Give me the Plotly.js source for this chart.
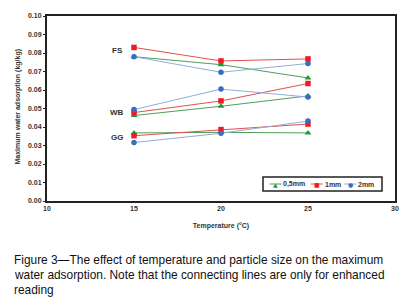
<!DOCTYPE html>
<html><head><meta charset="utf-8">
<script src="https://cdn.plot.ly/plotly-3.0.1.min.js"></script>
<style>html,body{margin:0;padding:0;background:#fff;}#chart{width:403px;height:308px;}</style>
</head><body><div id="chart"></div>
<script>
// Data
const temps = [15, 20, 25];
const sizes = ['0,5mm', '1mm', '2mm'];
const groups = ['FS', 'WB', 'GG'];
const fs_05 = [0.0780, 0.0737, 0.0665];
const fs_1  = [0.0830, 0.0757, 0.0768];
const fs_2  = [0.0780, 0.0696, 0.0743];
const wb_05 = [0.0462, 0.0512, 0.0568];
const wb_1  = [0.0478, 0.0541, 0.0635];
const wb_2  = [0.0494, 0.0605, 0.0562];
const gg_05 = [0.0368, 0.0371, 0.0368];
const gg_1  = [0.0353, 0.0386, 0.0416];
const gg_2  = [0.0316, 0.0366, 0.0432];
const xTicks = [10, 15, 20, 25, 30];
const yTicks = [0, 0.01, 0.02, 0.03, 0.04, 0.05, 0.06, 0.07, 0.08, 0.09, 0.10];
const groupLabelY = [0.0811, 0.0476, 0.0343];

const styles = [
  {marker: '#1f9a3b', line: '#4f9e58', symbol: 'triangle-up', size: 6},
  {marker: '#ec1c24', line: '#e2504f', symbol: 'square', size: 5.5},
  {marker: '#3a6cc3', line: '#8fadde', symbol: 'circle', size: 5.5}
];
const seriesByGroup = [[fs_05, fs_1, fs_2], [wb_05, wb_1, wb_2], [gg_05, gg_1, gg_2]];

const traces = [];
for (let s = 0; s < 3; s++) {
  for (let g = 0; g < 3; g++) {
    traces.push({
      x: temps, y: seriesByGroup[g][s], type: 'scatter', mode: 'lines+markers',
      name: sizes[s], showlegend: false,
      line: {color: styles[s].line, width: 1},
      marker: {color: styles[s].marker, symbol: styles[s].symbol, size: styles[s].size}
    });
  }
}

const FAM = 'Liberation Sans, Arial, sans-serif';
const tickFont = {family: FAM, size: 7, color: '#333', weight: 'bold'};
const annotations = [];
groups.forEach((gname, i) => {
  annotations.push({x: 14.05, y: groupLabelY[i], xref: 'x', yref: 'y', xanchor: 'center', yanchor: 'middle',
    text: '<b>' + gname + '</b>', showarrow: false, font: {family: FAM, size: 8, color: '#333'}});
});

const pxX = px => (px - 47) / 348;
const pxY = py => (201 - py) / 185;

// y axis title
annotations.push({x: pxX(17.5), y: pxY(107), xref: 'paper', yref: 'paper', xanchor: 'center', yanchor: 'middle',
  textangle: -90, text: '<b>Maximum water adsorption (kg/kg)</b>', showarrow: false, font: {family: FAM, size: 7, color: '#333'}});

// caption
const capFont = {family: FAM, size: 11.9, color: '#111'};
const capLines = ['Figure 3\u2014The effect of temperature and particle size on the maximum',
  'water adsorption. Note that the connecting lines are only for enhanced',
  'reading'];
const capBase = [259.5, 274.5, 289.5];
capLines.forEach((t, i) => {
  annotations.push({x: pxX(12), y: pxY(capBase[i]), xref: 'paper', yref: 'paper', xanchor: 'left', yanchor: 'middle',
    text: t, showarrow: false, font: capFont});
});

// custom legend
const legendMarkerX = [275.7, 316.7, 350.2];
const legendTextX = [281, 322.5, 356];
const legendGlyph = ['\u25B2', '\u25A0', '\u25CF'];
const shapes = [{type: 'rect', xref: 'paper', yref: 'paper', x0: pxX(263), x1: pxX(382), y0: pxY(191), y1: pxY(177),
  line: {color: '#222', width: 1.5}, fillcolor: '#fff'}];
for (let s = 0; s < 3; s++) {
  shapes.push({type: 'line', xref: 'paper', yref: 'paper', x0: pxX(legendMarkerX[s] - 6), x1: pxX(legendMarkerX[s] + 6),
    y0: pxY(184), y1: pxY(184), line: {color: styles[s].line, width: 1}});
  annotations.push({x: pxX(legendMarkerX[s]), y: pxY(184), xref: 'paper', yref: 'paper', xanchor: 'center', yanchor: 'middle',
    text: legendGlyph[s], showarrow: false, font: {family: 'DejaVu Sans, sans-serif', size: 6, color: styles[s].marker}});
  annotations.push({x: pxX(legendTextX[s]), y: pxY(184), xref: 'paper', yref: 'paper', xanchor: 'left', yanchor: 'middle',
    text: '<b>' + sizes[s] + '</b>', showarrow: false, font: {family: FAM, size: 7, color: '#333'}});
}

const layout = {
  width: 403, height: 308,
  margin: {l: 47, r: 8, t: 16, b: 107},
  paper_bgcolor: '#ffffff', plot_bgcolor: '#ffffff',
  showlegend: false,
  font: {family: FAM},
  xaxis: {range: [10, 30], tickvals: xTicks, ticktext: xTicks.map(String), showgrid: false, zeroline: false,
    showline: true, linecolor: '#222', linewidth: 2, mirror: true, ticks: '', tickfont: tickFont,
    title: {text: '<b>Temperature (°C)</b>', font: {family: FAM, size: 7, color: '#333'}, standoff: 12}},
  yaxis: {range: [0, 0.10], tickvals: yTicks, ticktext: yTicks.map(v => v.toFixed(2)), showgrid: false, zeroline: false,
    showline: true, linecolor: '#222', linewidth: 2, mirror: true, ticks: 'outside', ticklen: 2, tickcolor: '#222', tickfont: tickFont},
  annotations: annotations,
  shapes: shapes
};
Plotly.newPlot('chart', traces, layout, {displayModeBar: false, staticPlot: true});
</script></body></html>
